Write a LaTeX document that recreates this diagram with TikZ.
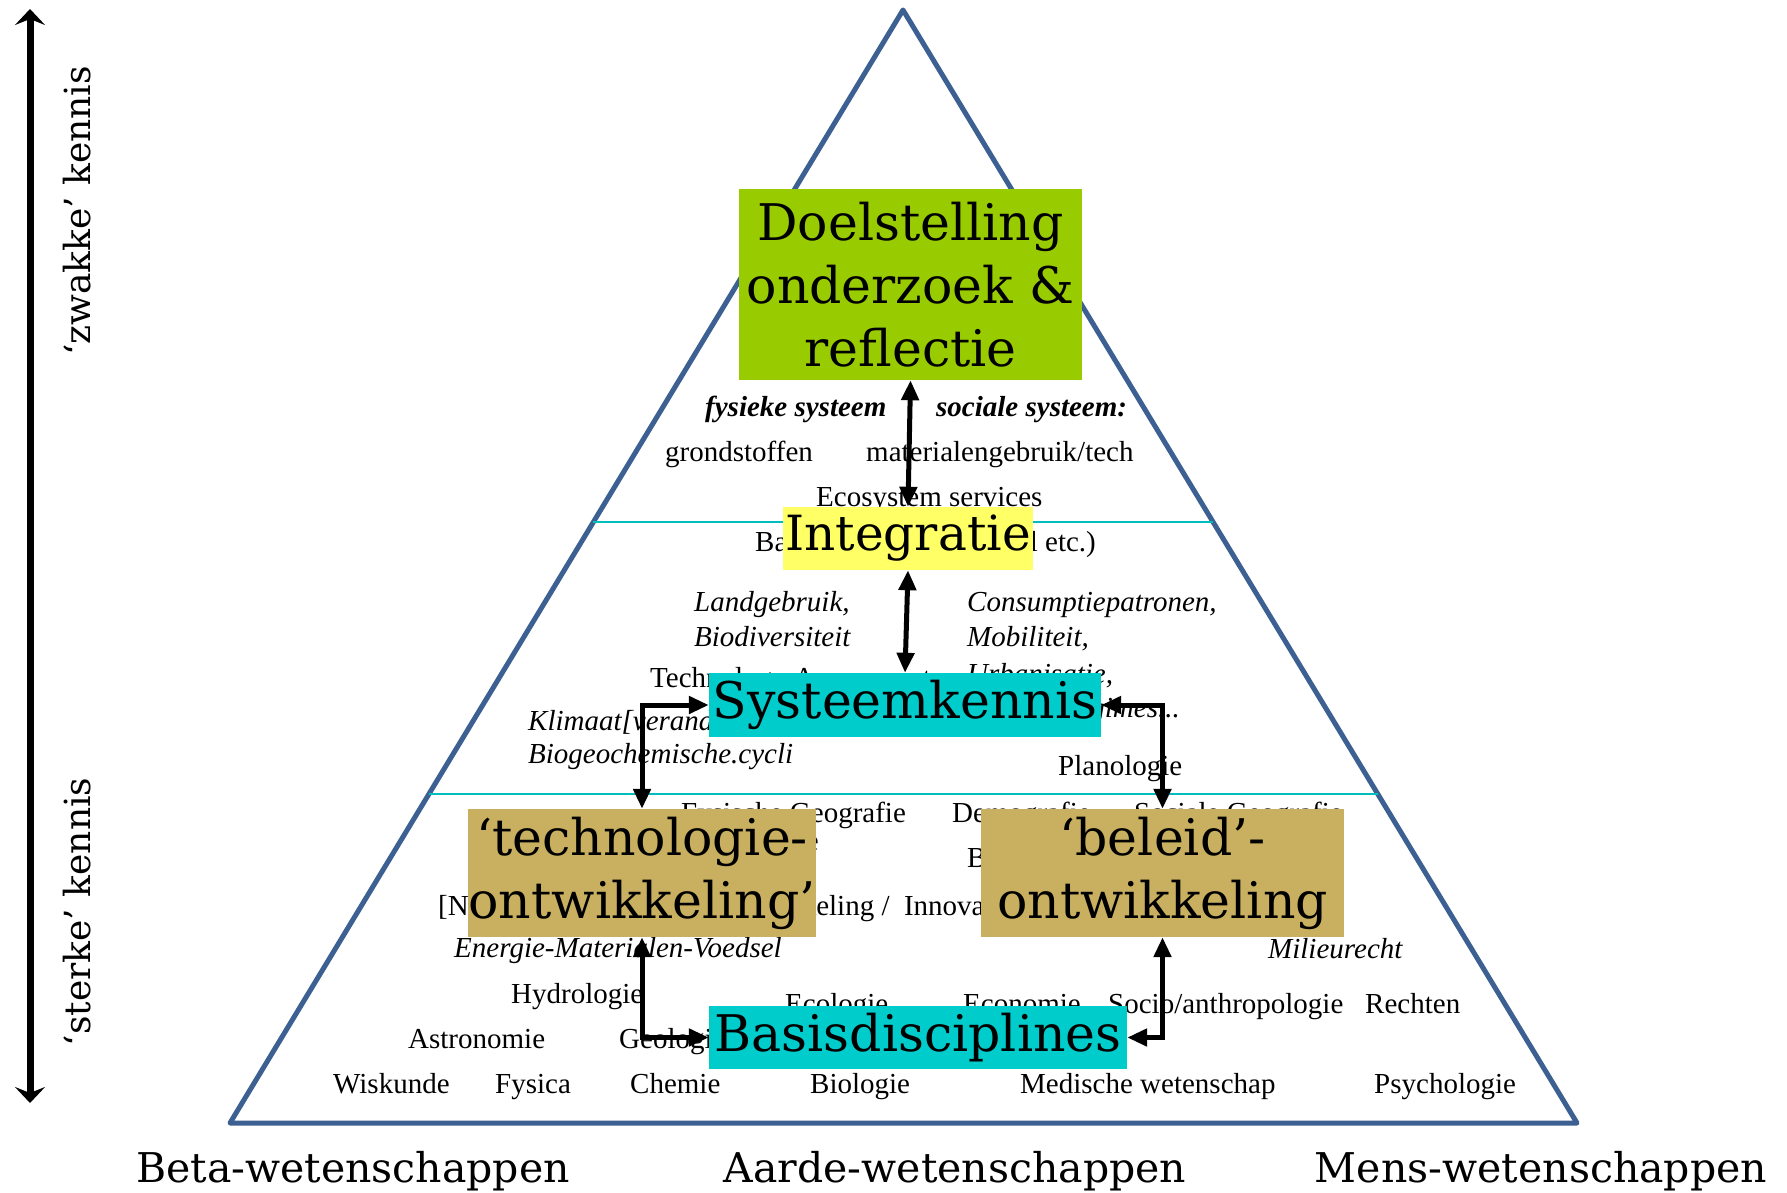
\documentclass[tikz,border=0pt]{standalone}
\usepackage{fontspec}
\setmainfont{Liberation Serif}
\newfontfamily\bkfont{DejaVu Serif}
\usetikzlibrary{arrows.meta,calc}
\definecolor{triblue}{RGB}{60,96,145}
\definecolor{layerline}{RGB}{0,190,190}
\definecolor{goalgreen}{RGB}{153,204,0}
\definecolor{intyellow}{RGB}{255,255,102}
\definecolor{syscyan}{RGB}{0,204,204}
\definecolor{devtan}{RGB}{201,176,96}
\begin{document}
\begin{tikzpicture}[x=1pt,y=-1pt,
  lbl/.style={inner sep=0, anchor=base west, font=\fontsize{29}{34}\selectfont},
  lbli/.style={lbl, font=\fontsize{29}{34}\selectfont\itshape},
  lblb/.style={lbl, font=\fontsize{29}{34}\selectfont\bfseries\itshape},
  box/.style={inner sep=0, align=center, font=\bkfont\fontsize{50.5}{63}\selectfont},
  side/.style={inner sep=0, rotate=90, font=\bkfont\fontsize{36}{40}\selectfont},
  field/.style={inner sep=0, anchor=base, font=\bkfont\fontsize{41}{50}\selectfont},
  link/.style={line width=5pt, {Triangle[length=20pt,width=17pt]}-{Triangle[length=20pt,width=17pt]}},
  kscale/.style={line width=7pt, {Stealth[length=16pt,width=30pt,inset=6pt]}-{Stealth[length=16pt,width=30pt,inset=6pt]}}
]
\useasboundingbox[fill=white] (0,0) rectangle (1787,1193);

% pyramid and its layers
\coordinate (apex) at (903,10);
\coordinate (bl) at (230,1123);
\coordinate (br) at (1577,1123);
\draw[triblue, line width=5pt, line join=round] (apex) -- (bl) -- (br) -- cycle;
\draw[layerline, line width=2pt]
  ($(apex)!{512/1113}!(bl)$) -- ($(apex)!{512/1113}!(br)$);
\draw[layerline, line width=2pt]
  ($(apex)!{784/1113}!(bl)$) -- ($(apex)!{784/1113}!(br)$);

% top layer: physical and social system
\node[lblb] (fys) at (705,416) {fysieke systeem};
\node[lblb] (soc) at (936,416) {sociale systeem:};
\node[lbl] (grond) at (665,461) {grondstoffen};
\node[lbl] (mat) at (866,461) {materialengebruik/tech};
\node[lbl] (eco) at (816,506) {Ecosystem services};
\node[lbl] (basb) at (755,551) {Basisbehoeften (voedsel etc.)};

% middle layer
\node[lbli] (land) at (694,611) {Landgebruik,};
\node[lbli] (biod) at (694,646) {Biodiversiteit};
\node[lbli] (cons) at (967,611) {Consumptiepatronen,};
\node[lbli] (mob) at (967,646) {Mobiliteit,};
\node[lbli] (urb) at (967,683) {Urbanisatie,};
\node[lbli, anchor=base east] (reg) at (1180,717) {Regimes...};
\node[lbl] (ta) at (650,687) {Technology Assessment};
\node[lbli] (klim) at (528,730) {Klimaat[verandering]};
\node[lbli] (bgc) at (528,763) {Biogeochemische.cycli};
\node[lbl] (plan) at (1058,775) {Planologie};

% lower layer
\node[lbl] (fgeo) at (681,822) {Fysische Geografie};
\node[lbl] (demo) at (952,822) {Demografie};
\node[lbl] (sgeo) at (1134,822) {Sociale Geografie};
\node[lbl, anchor=base east] (klimt) at (819,850) {Klimatologie};
\node[lbl] (best) at (967,867) {Bestuurskunde};
\node[lbl] (innova) at (438,915) {[Nieuwe] Technologie-};
\node[lbl] (innovb) at (721,915) {ontwikkeling /\ \ Innovatie};
\node[lbli] (emv) at (454,957) {Energie-Materialen-Voedsel};
\node[lbli] (mil) at (1268,958) {Milieurecht};
\node[lbl] (hydro) at (511,1003) {Hydrologie};
\node[lbl] (ecol) at (785,1013) {Ecologie};
\node[lbl] (econ) at (963,1013) {Economie};
\node[lbl] (socio) at (1108,1013) {Socio/anthropologie};
\node[lbl] (recht) at (1365,1013) {Rechten};
\node[lbl] (astro) at (408,1048) {Astronomie};
\node[lbl] (geol) at (619,1048) {Geologie};
\node[lbl] (wis) at (333,1093) {Wiskunde};
\node[lbl] (fysi) at (495,1093) {Fysica};
\node[lbl] (chem) at (630,1093) {Chemie};
\node[lbl] (biol) at (810,1093) {Biologie};
\node[lbl] (med) at (1020,1093) {Medische wetenschap};
\node[lbl] (psy) at (1374,1093) {Psychologie};

% the six knowledge blocks
\node[box, fill=goalgreen, minimum width=343, minimum height=191] (doel) at (910.5,284.5)
  {Doelstelling\\onderzoek \&\\reflectie};
\node[box, font=\bkfont\fontsize{48.5}{63}\selectfont, fill=intyellow,
  minimum width=250, minimum height=63] (integ) at (908,538.5) {Integratie};
\node[box, fill=syscyan, minimum width=392, minimum height=64] (syst) at (905,705) {Systeemkennis};
\node[box, fill=devtan, minimum width=348, minimum height=128] (tech) at (642,873)
  {‘technologie-\\ontwikkeling’};
\node[box, fill=devtan, minimum width=363, minimum height=128] (bel) at (1162.5,873)
  {‘beleid’-\\ontwikkeling};
\node[box, fill=syscyan, minimum width=418, minimum height=63] (basis) at (918,1037.5) {Basisdisciplines};

% two-way links between the blocks
\draw[link] (doel.south) -- (integ.north);
\draw[link] (integ.south) -- (syst.north);
\draw[link] (tech.north) |- (syst.west);
\draw[link] (bel.north) |- (syst.east);
\draw[link] (tech.south) |- (basis.west);
\draw[link] (bel.south) |- (basis.east);

% knowledge scale on the left
\coordinate (stop) at (30,9);
\coordinate (sbot) at (30,1103);
\draw[kscale] (stop) -- (sbot);
\node[side] (zwak) at (77,211) {‘zwakke’ kennis};
\node[side] (sterk) at (77,912) {‘sterke’ kennis};

% fields of science along the base
\node[field] (beta) at (353,1182) {Beta-wetenschappen};
\node[field] (aarde) at (955,1182) {Aarde-wetenschappen};
\node[field] (mens) at (1541,1182) {Mens-wetenschappen};
\end{tikzpicture}
\end{document}
